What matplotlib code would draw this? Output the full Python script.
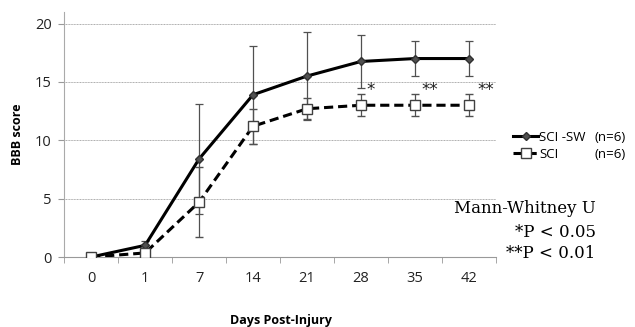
import numpy as np
import matplotlib.pyplot as plt
from matplotlib.lines import Line2D

days = ['0', '1', '7', '14', '21', '28', '35', '42']
sw_mean = [0.0, 1.0, 8.4, 13.9, 15.5, 16.75, 17.0, 17.0]
sw_err = [0.0, 0.4, 4.7, 4.2, 3.8, 2.3, 1.5, 1.5]
sci_mean = [0.0, 0.35, 4.7, 11.2, 12.7, 13.0, 13.0, 13.0]
sci_err = [0.0, 0.2, 3.0, 1.5, 0.9, 0.95, 0.95, 0.95]
stars = {5: '*', 6: '**', 7: '**'}
star_shift = {5: 0.18, 6: 0.27, 7: 0.31}

x = np.arange(len(days))

fig = plt.figure(figsize=(6.35, 3.27), dpi=100)
ax = fig.add_axes([0.101, 0.214, 0.68, 0.748])

sw_style = dict(color='black', lw=2.2, marker='D', ms=4.2, mfc='#505050', mec='#303030')
sci_style = dict(color='black', lw=2.2, ls=(0, (3, 1.6)), marker='s', ms=6.5,
                 mfc='white', mec='#404040', mew=1.0)

ax.errorbar(x, sw_mean, yerr=sw_err, ecolor='#505050', elinewidth=0.9,
            capsize=3, capthick=0.9, zorder=3, **sw_style)
ax.errorbar(x, sci_mean, yerr=sci_err, ecolor='#505050', elinewidth=0.9,
            capsize=3, capthick=0.9, zorder=3, **sci_style)

for i, s in stars.items():
    ax.text(i + star_shift[i], 14.3, s, fontsize=12, ha='center', va='center',
            family='DejaVu Sans', color='#222222')

ax.set_xlim(-0.5, len(days) - 0.5)
ax.set_ylim(0, 20.95)
ax.set_yticks([0, 5, 10, 15, 20])
ax.set_xticks(x)
ax.set_xticklabels(days)
ax.set_xticks(np.arange(-0.5, len(days)), minor=True)
ax.tick_params(axis='x', which='major', length=0, pad=10)
ax.tick_params(axis='x', which='minor', length=4, color='#999999')
ax.tick_params(axis='y', length=4, color='#999999', pad=5)
for lab in ax.get_xticklabels() + ax.get_yticklabels():
    lab.set_family('Open Sans')
    lab.set_fontsize(10.5)
    lab.set_color('#222222')

ax.grid(axis='y', color='#aaaaaa', lw=0.7, ls=(0, (1, 0.6)))
ax.set_axisbelow(True)
for side in ['top', 'right']:
    ax.spines[side].set_visible(False)
ax.spines['left'].set_color('#aaaaaa')
ax.spines['bottom'].set_color('#999999')

ax.set_ylabel('BBB score', family='Open Sans', fontsize=9, weight='bold', labelpad=8)
fig.text(0.442, 0.0, 'Days Post-Injury', family='Open Sans', fontsize=9,
         weight='bold', ha='center', va='bottom')

handles = [Line2D([], [], **sw_style), Line2D([], [], **sci_style)]
fig.legend(handles, ['SCI -SW', 'SCI'], loc='center left',
           bbox_to_anchor=(0.808, 0.554), frameon=False,
           handlelength=1.9, handletextpad=0.1, labelspacing=0.32,
           borderaxespad=0.0, borderpad=0.0,
           prop={'family': 'Open Sans', 'size': 9.5})
fig.text(0.937, 0.581, '(n=6)', family='Open Sans', fontsize=9.5, va='center')
fig.text(0.937, 0.526, '(n=6)', family='Open Sans', fontsize=9.5, va='center')

fig.text(0.938, 0.362, 'Mann-Whitney U', family='DejaVu Serif', fontsize=12,
         ha='right', va='center')
fig.text(0.938, 0.29, '*P < 0.05', family='DejaVu Serif', fontsize=12,
         ha='right', va='center')
fig.text(0.938, 0.224, '**P < 0.01', family='DejaVu Serif', fontsize=12,
         ha='right', va='center')

fig.savefig('out.png', dpi=100)
